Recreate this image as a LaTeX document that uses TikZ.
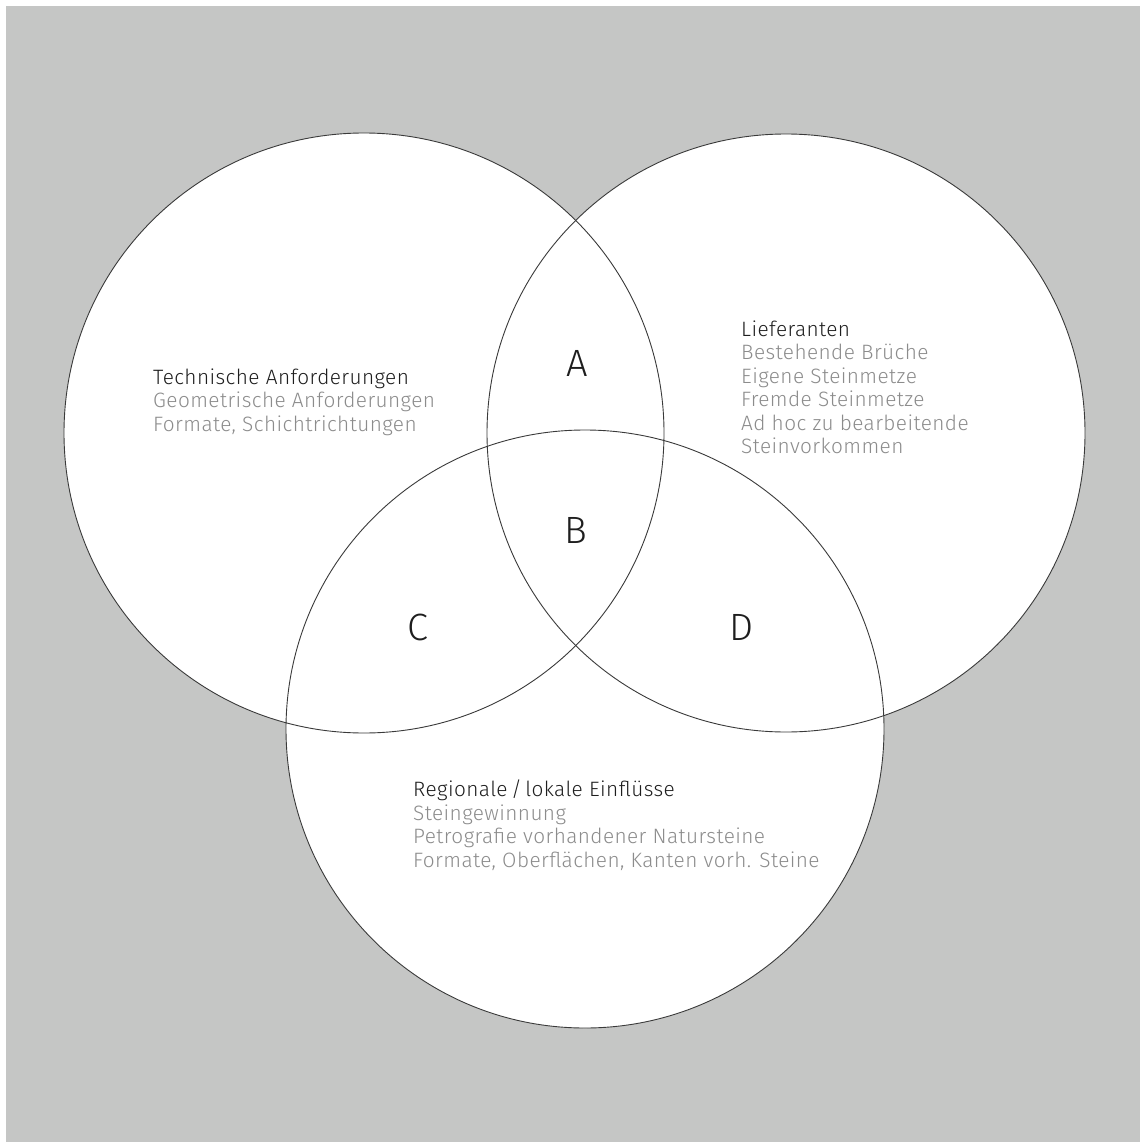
\documentclass[tikz,border=0pt]{standalone}
\usepackage{fontspec}
\setmainfont{Fira Sans Light}[LetterSpace=2.0]
\usetikzlibrary{positioning}
\definecolor{paper}{HTML}{C5C6C5}
\definecolor{ink}{HTML}{1E1E1E}
\definecolor{soft}{HTML}{8C8C8C}
\definecolor{rim}{HTML}{3A3A3A}
\begin{document}
\begin{tikzpicture}[x=1pt,y=-1pt,
setfill/.style={fill=white},
setrim/.style={draw=rim,line width=0.9pt},
region/.style={inner sep=0pt,text=ink,font=\fontsize{38}{38}\selectfont},
caption/.style={anchor=base west,align=left,inner sep=0pt,text=soft,font=\fontsize{20.8}{23.5}\selectfont}]

% frame
\useasboundingbox (0,0) rectangle (1140,1142);
\fill[white] (0,0) rectangle (1140,1142);
\fill[paper] (6,6) rectangle (1140,1142);

% the three sets: fills first, then the outlines on top
\fill[setfill] (364,433) circle (300);
\fill[setfill] (786,433) circle (299);
\fill[setfill] (585,729) circle (299);
\draw[setrim] (364,433) circle (300);
\draw[setrim] (786,433) circle (299);
\draw[setrim] (585,729) circle (299);

% overlaps
\node[region] (A) at (577,363) {A};
\node[region] (B) at (576,530) {B};
\node[region] (C) at (418,627) {C};
\node[region] (D) at (741,627) {D};

% set captions (base = baseline of the last line)
\node[caption] (tech) at (153,431) {\textcolor{ink}{Technische Anforderungen}\\Geometrische Anforderungen\\Formate, Schichtrichtungen};
\node[caption] (supp) at (741,453.5) {\textcolor{ink}{Lieferanten}\\Bestehende Brüche\\Eigene Steinmetze\\Fremde Steinmetze\\Ad hoc zu bearbeitende\\Steinvorkommen};
\node[caption] (regio) at (413,867) {\textcolor{ink}{Regionale\,/\,lokale Einflüsse}\\Steingewinnung\\Petrografie vorhandener Natursteine\\Formate, Oberflächen, Kanten vorh. Steine};
\end{tikzpicture}
\end{document}
